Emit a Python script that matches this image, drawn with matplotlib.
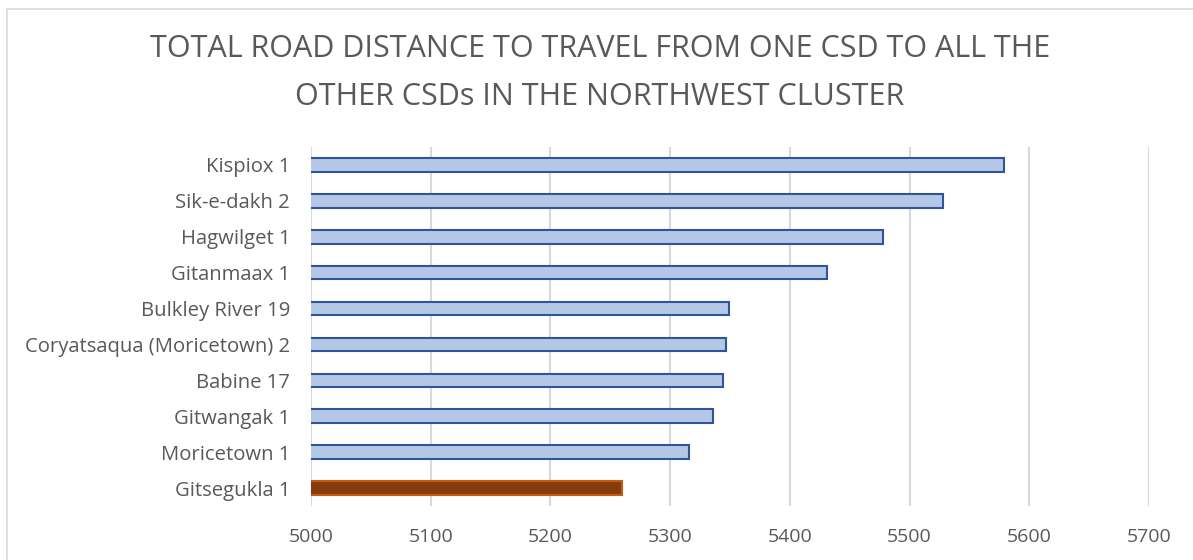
import matplotlib.pyplot as plt
from matplotlib.patches import Rectangle

# Total road distance from each CSD to all other CSDs (northwest cluster)
places = ['Gitsegukla 1', 'Moricetown 1', 'Gitwangak 1', 'Babine 17',
          'Coryatsaqua (Moricetown) 2', 'Bulkley River 19', 'Gitanmaax 1',
          'Hagwilget 1', 'Sik-e-dakh 2', 'Kispiox 1']
distance = [5260, 5316, 5336, 5344, 5347, 5349, 5431, 5478, 5528, 5579]
highlight = 'Gitsegukla 1'

xticks = [5000, 5100, 5200, 5300, 5400, 5500, 5600, 5700]

plt.rcParams['font.family'] = ['Open Sans', 'DejaVu Sans']
text_color = '#595959'

fig = plt.figure(figsize=(11.93, 5.6), dpi=100)
ax = fig.add_axes([311 / 1193, 1 - 506 / 560, (1149 - 311) / 1193, (506 - 147) / 560])

# light frame around the chart area
fig.patches.append(Rectangle((7 / 1193, -0.1), 1.2, 1 - 9 / 560 + 0.1,
                             transform=fig.transFigure, fill=False,
                             edgecolor='#d9d9d9', linewidth=1.2))

fills = ['#843c0c' if p == highlight else '#b4c7e7' for p in places]
edges = ['#c55a11' if p == highlight else '#2f5597' for p in places]
ax.barh(places, distance, height=0.38, left=0, color=fills, edgecolor=edges,
        linewidth=1.5, zorder=3)

ax.set_xlim(5000, 5700)
ax.set_ylim(-0.5, len(places) - 0.5)
ax.set_xticks(xticks)
ax.set_xticklabels([str(t) for t in xticks])
ax.grid(axis='x', color='#d9d9d9', linewidth=1.5, zorder=0)
ax.set_axisbelow(True)
for s in ax.spines.values():
    s.set_visible(False)
ax.tick_params(axis='both', length=0, colors=text_color, labelsize=14)
ax.tick_params(axis='y', labelsize=14.6, pad=15)
ax.tick_params(axis='x', pad=16)

fig.text(0.503, 1 - 73 / 560,
         'TOTAL ROAD DISTANCE TO TRAVEL FROM ONE CSD TO ALL THE\nOTHER CSDs IN THE NORTHWEST CLUSTER',
         ha='center', va='center', fontsize=22, color=text_color,
         linespacing=1.75)

fig.savefig('out.png', dpi=100)
